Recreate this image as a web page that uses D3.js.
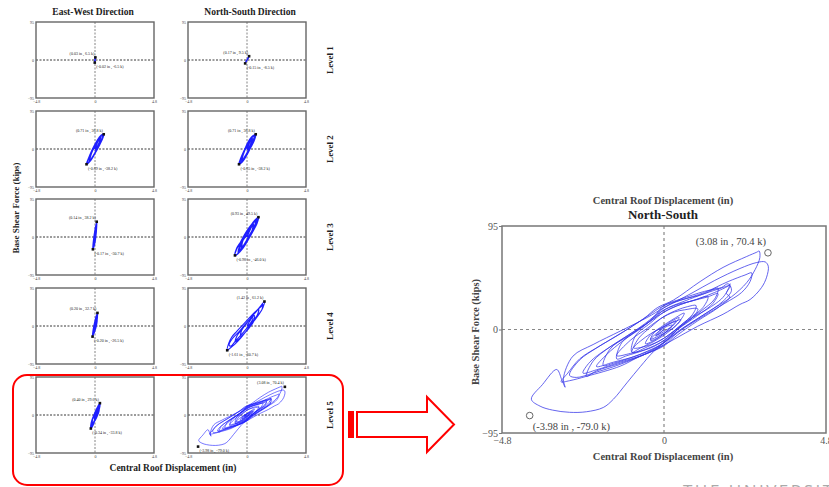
<!DOCTYPE html>
<html>
<head>
<meta charset="utf-8">
<script src="https://cdn.jsdelivr.net/npm/d3@7"></script>
<style>
  body { margin: 0; background: #fff; }
  svg { display: block; font-family: "Liberation Serif", "Times New Roman", serif; }
</style>
</head>
<body>
<script>
// axis ticks shared by every panel
const xTicks = [-4.8, 0, 4.8];
const yTicks = [-95, 0, 95];
const directions = ["East-West Direction", "North-South Direction"];
const levels = ["Level 1", "Level 2", "Level 3", "Level 4", "Level 5"];

// hysteresis traces (in, kips)
const ewLevel1 = [[0,0],[0.02,4],[0.03,6.5],[0.01,2],[-0.01,-3],[-0.02,-6.5],[0,-2],[0.02,3],[0.01,5],[-0.01,-1],[-0.02,-5],[0,0]];
const ewLevel2 = [[0,0],[0.25,20],[0.45,30],[0.35,16],[0.1,-4],[-0.2,-20],[-0.45,-32],[-0.35,-16],[-0.1,4],[0.2,22],[0.5,34],[0.71,36.8],[0.55,22],[0.25,4],[-0.1,-16],[-0.4,-30],[-0.69,-38.2],[-0.5,-22],[-0.25,-4],[0.05,14],[0.35,28],[0.6,35],[0.5,20],[0.2,0],[-0.15,-18],[-0.45,-32],[-0.6,-34],[-0.4,-16],[-0.1,2],[0.2,18],[0.4,24],[0.2,6],[0,-4]];
const ewLevel3 = [[0,0],[0.06,14],[0.1,26],[0.1,14],[0.04,-2],[-0.04,-16],[-0.1,-24],[-0.1,-12],[-0.04,4],[0.04,20],[0.14,38.2],[0.12,24],[0.08,8],[0.02,-8],[-0.06,-20],[-0.17,-30.7],[-0.14,-16],[-0.08,0],[0,16],[0.08,30],[0.1,22],[0.04,6],[-0.04,-10],[-0.12,-24],[-0.1,-12],[0,0]];
const ewLevel4 = [[0,0],[0.08,12],[0.15,24],[0.16,12],[0.08,-2],[-0.04,-14],[-0.12,-20],[-0.1,-8],[-0.02,6],[0.08,20],[0.2,32.7],[0.18,20],[0.12,6],[0.02,-8],[-0.1,-18],[-0.2,-26.5],[-0.16,-14],[-0.08,0],[0.02,14],[0.14,28],[0.15,16],[0.06,2],[-0.06,-12],[-0.16,-22],[-0.1,-8],[0,0]];
const ewLevel5 = [[0,0],[0.15,12],[0.3,22],[0.32,10],[0.15,-4],[-0.05,-16],[-0.2,-24],[-0.22,-12],[-0.05,2],[0.15,16],[0.4,29.6],[0.35,16],[0.2,2],[0,-12],[-0.15,-24],[-0.34,-33.8],[-0.3,-20],[-0.15,-6],[0.05,8],[0.25,20],[0.35,24],[0.28,10],[0.1,-4],[-0.1,-18],[-0.28,-28],[-0.25,-14],[-0.05,0],[0.15,10],[0.3,16],[0.15,2],[-0.05,-10],[0,0]];

const nsLevel1 = [[0,0],[0.1,5],[0.17,9.5],[0.08,3],[-0.05,-3],[-0.15,-8.5],[-0.06,-2],[0.05,3],[0.12,7],[0.02,1],[-0.1,-6],[0,0]];
const nsLevel2 = [[0,0],[0.22,18],[0.42,28],[0.34,14],[0.08,-6],[-0.22,-22],[-0.42,-30],[-0.32,-14],[-0.06,6],[0.22,22],[0.5,32],[0.71,36.8],[0.56,20],[0.26,2],[-0.08,-18],[-0.38,-32],[-0.65,-38.2],[-0.48,-22],[-0.22,-4],[0.08,16],[0.38,30],[0.6,34],[0.48,18],[0.18,-2],[-0.16,-20],[-0.44,-32],[-0.56,-32],[-0.36,-14],[-0.08,4],[0.22,20],[0.38,22],[0.18,4],[0,-2]];
const nsLevel3 = [[0,0],[0.3,22],[0.5,32],[0.45,18],[0.2,0],[-0.1,-14],[-0.4,-28],[-0.4,-14],[-0.15,4],[0.2,22],[0.6,38],[0.8,44],[0.7,30],[0.4,12],[0.05,-8],[-0.3,-26],[-0.7,-40],[-0.6,-24],[-0.3,-6],[0.1,16],[0.5,36],[0.93,49.5],[0.8,34],[0.5,16],[0.1,-6],[-0.4,-30],[-0.98,-46],[-0.85,-30],[-0.5,-12],[-0.1,10],[0.3,28],[0.7,40],[0.6,26],[0.2,4],[-0.2,-18],[-0.6,-34],[-0.5,-18],[-0.2,-2],[0,4]];
const nsLevel4 = [[0,0],[0.3,16],[0.6,26],[0.55,12],[0.2,-4],[-0.2,-18],[-0.5,-26],[-0.45,-12],[-0.1,4],[0.3,20],[0.7,34],[0.95,42],[0.85,28],[0.5,12],[0.1,-6],[-0.3,-22],[-0.7,-34],[-0.95,-40],[-0.8,-24],[-0.4,-8],[0.1,12],[0.6,32],[1.0,46],[1.42,61.2],[1.3,46],[1.0,30],[0.5,10],[0,-10],[-0.5,-30],[-1.0,-46],[-1.4,-56],[-1.61,-60.7],[-1.5,-44],[-1.25,-28],[-0.85,-14],[-0.3,4],[0.3,24],[0.9,42],[1.2,50],[1.3,54],[1.2,40],[0.8,24],[0.3,6],[-0.3,-16],[-0.9,-36],[-1.3,-50],[-1.45,-48],[-1.2,-32],[-0.7,-16],[-0.2,2],[0.3,18],[0.5,20],[0.2,4],[0,0]];
const nsLevel5 = [[0,0],[-0.25,-6],[-0.1,0],[0.2,6],[0.35,8],[0.2,2],[-0.1,-6],[-0.4,-10],[-0.3,-3],[0,3],[0.3,9],[0.45,11],[0.25,3],[-0.05,-5],[-0.35,-11],[-0.55,-13],[-0.4,-5],[-0.1,2],[0.3,10],[0.6,15],[0.45,7],[0.1,-3],[-0.3,-11],[-0.7,-17],[-0.95,-21],
  [-0.75,-8],[-0.4,2],[0,12],[0.4,18],[0.7,21],[0.95,22],[0.85,14],[0.5,4],[0,-8],[-0.5,-16],[-0.95,-21],
  [-0.85,-6],[-0.4,6],[0,16],[0.5,23],[0.9,27],[1.3,30],[1.15,20],[0.7,9],[0.2,-4],[0,-10],[-0.6,-19],[-1.1,-24],[-1.4,-27],
  [-1.25,-12],[-0.8,-1],[-0.3,10],[0,18],[0.6,26],[1.2,33],[1.6,38],[1.5,28],[1.1,17],[0.5,3],[0,-12],[-0.5,-20],[-0.9,-25],[-1.5,-31],[-1.8,-33],
  [-1.6,-18],[-1.1,-6],[-0.4,8],[0,20],[0.5,27],[1.0,31],[1.6,37],[1.96,40],[1.85,33],[1.95,30],[1.6,20],[1.0,8],[0.4,-5],[0,-15],[-0.5,-22],[-1.3,-31],[-2.0,-38],[-2.3,-43],
  [-2.1,-29],[-1.6,-16],[-0.9,-2],[-0.3,12],[0,22],[0.5,28],[1.2,35],[1.7,38.5],[1.9,42],[2.0,36],[1.75,26],[1.1,12],[0.4,-2],[0,-12],[-0.4,-20],[-1.3,-32],[-2.1,-40],[-2.6,-44],[-2.8,-42],
  [-2.5,-28],[-2.0,-17],[-1.3,-4],[-0.6,10],[-0.2,20],[0.28,27],[1.07,44],[1.75,57],[2.45,67],[2.75,71],[2.82,72],[2.84,66],[2.7,55],[2.45,43],[2.0,30],[1.3,16],[0.6,2],[0.1,-10],[-0.3,-20],[-0.7,-34],[-1.1,-49],[-1.5,-64],[-1.8,-71.6],[-2.3,-75.5],[-2.8,-76],[-3.3,-74],[-3.67,-70.4],[-3.93,-64],[-3.6,-50.5],[-3.18,-36.7],[-3.03,-46],[-2.93,-53],[-2.98,-45],
  [-2.7,-24.5],[-2.1,-13.8],[-1.3,-1.5],[-0.5,11],[0,20],[0.8,33],[1.5,45],[2.25,56],[2.75,61.5],[3.0,62],[3.09,58],[3.04,48],[2.89,38.5],[2.55,27.5],[2.25,23],[1.75,14],[1.0,3],[0.3,-9],[-0.3,-19],[-0.8,-26],[-1.3,-33.7],[-2.3,-43],[-2.8,-47],[-3.05,-48],
  [-2.85,-40],[-2.5,-27],[-1.9,-15],[-1.2,-2],[-0.5,12],[0,22],[0.5,27],[1.2,34],[1.9,44],[2.4,50],[2.6,52],[2.55,44],[2.3,34],[1.8,24],[1.1,11],[0.4,-3],[0,-14],[-0.5,-22],[-1.3,-30],[-2.0,-37],[-2.4,-40],
  [-2.2,-30],[-1.7,-18],[-1.0,-5],[-0.4,8],[0,16],[0.4,22],[1.0,28],[1.5,34],[1.9,40],[1.96,42],[1.85,34],[1.7,28],[1.3,19],[0.7,8],[0.2,-6],[-0.2,-16],[-0.8,-24],[-1.5,-30],[-2.0,-34],
  [-1.7,-23],[-1.2,-10],[-0.6,3],[-0.2,14],[0.3,22],[0.8,26],[1.3,30],[1.6,33],[1.45,24],[1.0,13],[0.4,0],[0,-10],[-0.4,-17],[-1.0,-22],[-1.4,-24],
  [-1.0,-10],[-0.5,1],[-0.1,10],[0.3,16],[0.6,18],[1.0,19],[0.85,11],[0.4,1],[0,-8],[-0.4,-14],[-0.9,-17],
  [-0.5,-6],[-0.1,1],[0.3,7],[0.5,9],[0.3,2],[-0.1,-5],[-0.4,-9],[-0.2,-3],[0.1,3],[0.25,4],[0,-2],[-0.2,-5],[0,0]];

// peak points marked in each panel
const ewMax = [[0.03,6.5],[0.71,36.8],[0.14,38.2],[0.20,32.7],[0.40,29.6]];
const ewMin = [[-0.02,-6.5],[-0.69,-38.2],[-0.17,-30.7],[-0.20,-26.5],[-0.34,-33.8]];
const nsMax = [[0.17,9.5],[0.71,36.8],[0.93,49.5],[1.42,61.2],[3.08,70.4]];
const nsMin = [[-0.15,-8.5],[-0.65,-38.2],[-0.98,-46.0],[-1.61,-60.7],[-3.98,-79.0]];

const ewLoops = [ewLevel1, ewLevel2, ewLevel3, ewLevel4, ewLevel5];
const nsLoops = [nsLevel1, nsLevel2, nsLevel3, nsLevel4, nsLevel5];

const peakText = d => `(${d[0].toFixed(2)} in , ${d[1].toFixed(1)} k)`;

const svg = d3.select("body").append("svg")
  .attr("width", 829)
  .attr("height", 487);

// ---------- small panel grid ----------
const colX = [36, 188];
const rowY = [22, 111, 199, 288, 377];
const pw = 118, ph = 76;

function smallPanel(x0, y0, pts, mx, mn, lw) {
  const g = svg.append("g");
  const x = d3.scaleLinear().domain([-4.8, 4.8]).range([x0, x0 + pw]);
  const y = d3.scaleLinear().domain([-95, 95]).range([y0 + ph, y0]);

  g.append("line")
    .attr("x1", x(-4.8)).attr("x2", x(4.8))
    .attr("y1", y(0)).attr("y2", y(0))
    .attr("stroke", "#222").attr("stroke-width", 0.9)
    .attr("stroke-dasharray", "2,1.5");
  g.append("line")
    .attr("x1", x(0)).attr("x2", x(0))
    .attr("y1", y(95)).attr("y2", y(-95))
    .attr("stroke", "#777").attr("stroke-width", 0.9)
    .attr("stroke-dasharray", "2,1.5");

  const line = d3.line().x(d => x(d[0])).y(d => y(d[1])).curve(d3.curveCatmullRom);
  g.append("path").datum(pts)
    .attr("d", line)
    .attr("fill", "none")
    .attr("stroke", "#1f1fff")
    .attr("stroke-width", lw);

  g.append("rect")
    .attr("x", x0).attr("y", y0).attr("width", pw).attr("height", ph)
    .attr("fill", "none").attr("stroke", "#666").attr("stroke-width", 1.4);

  const yAxis = g.append("g").attr("transform", `translate(${x0},0)`)
    .call(d3.axisLeft(y).tickValues(yTicks).tickSize(0).tickPadding(2).tickFormat(d3.format("d")));
  const xAxis = g.append("g").attr("transform", `translate(0,${y0 + ph})`)
    .call(d3.axisBottom(x).tickValues(xTicks).tickSize(0).tickPadding(2.5).tickFormat(d3.format(".1f")));
  [yAxis, xAxis].forEach(a => {
    a.select(".domain").remove();
    a.selectAll("text").attr("font-size", 4).attr("fill", "#444")
      .attr("font-family", "Liberation Serif");
  });
  xAxis.selectAll(".tick").filter(d => d === 0).select("text").text("0");

  [mx, mn].forEach(p => {
    g.append("rect")
      .attr("x", x(p[0]) - 1.3).attr("y", y(p[1]) - 1.3)
      .attr("width", 2.6).attr("height", 2.6)
      .attr("fill", "#111");
  });
  g.append("text")
    .attr("x", x(mx[0]) - 1).attr("y", y(mx[1]) - 2.5)
    .attr("text-anchor", "end").attr("font-size", 4).attr("fill", "#222")
    .text(peakText(mx));
  g.append("text")
    .attr("x", x(mn[0]) + 1.5).attr("y", y(mn[1]) + 5.5)
    .attr("text-anchor", "start").attr("font-size", 4).attr("fill", "#222")
    .text(peakText(mn));
}

const nsWidths = [1.3, 1.6, 1.6, 1.1, 0.6];
levels.forEach((lv, i) => {
  smallPanel(colX[0], rowY[i], ewLoops[i], ewMax[i], ewMin[i], 1.5);
  smallPanel(colX[1], rowY[i], nsLoops[i], nsMax[i], nsMin[i], nsWidths[i]);
  svg.append("text")
    .attr("transform", `translate(333,${rowY[i] + ph / 2}) rotate(-90)`)
    .attr("text-anchor", "middle")
    .attr("font-size", 9).attr("font-weight", "bold").attr("fill", "#222")
    .text(lv);
});

svg.selectAll(".dirTitle").data(directions).join("text")
  .attr("class", "dirTitle")
  .attr("x", (d, i) => [93, 250][i]).attr("y", 15)
  .attr("text-anchor", "middle")
  .attr("font-size", 9.5).attr("font-weight", "bold").attr("fill", "#222")
  .text(d => d);

svg.append("text")
  .attr("transform", "translate(19,208) rotate(-90)")
  .attr("text-anchor", "middle")
  .attr("font-size", 9).attr("font-weight", "bold").attr("fill", "#222")
  .text("Base Shear Force (kips)");

svg.append("text")
  .attr("x", 173).attr("y", 471)
  .attr("text-anchor", "middle")
  .attr("font-size", 9.5).attr("font-weight", "bold").attr("fill", "#222")
  .text("Central Roof Displacement (in)");

// red highlight box and arrow
svg.append("rect")
  .attr("x", 13).attr("y", 375).attr("width", 330).attr("height", 110)
  .attr("rx", 14)
  .attr("fill", "none").attr("stroke", "#f00").attr("stroke-width", 2);

svg.append("rect")
  .attr("x", 348).attr("y", 411).attr("width", 6).attr("height", 27)
  .attr("fill", "#f00");
svg.append("polygon")
  .attr("points", "357,412 427,412 427,397 454,424.5 427,452 427,437 357,437")
  .attr("fill", "#fff").attr("stroke", "#f00").attr("stroke-width", 2);

// ---------- enlarged North-South Level 5 ----------
const bx0 = 502, bx1 = 826, by0 = 226, by1 = 433;
const bx = d3.scaleLinear().domain([-4.8, 4.8]).range([bx0, bx1]);
const by = d3.scaleLinear().domain([-95, 95]).range([by1, by0]);
const big = svg.append("g");

big.append("line")
  .attr("x1", bx(-4.8)).attr("x2", bx(4.8)).attr("y1", by(0)).attr("y2", by(0))
  .attr("stroke", "#888").attr("stroke-width", 1.2).attr("stroke-dasharray", "3,3");
big.append("line")
  .attr("x1", bx(0)).attr("x2", bx(0)).attr("y1", by(95)).attr("y2", by(-95))
  .attr("stroke", "#888").attr("stroke-width", 1.2).attr("stroke-dasharray", "3,3");

big.append("path").datum(nsLevel5)
  .attr("d", d3.line().x(d => bx(d[0])).y(d => by(d[1])).curve(d3.curveCatmullRom))
  .attr("fill", "none")
  .attr("stroke", "#3434e8")
  .attr("stroke-opacity", 0.85)
  .attr("stroke-width", 0.9);

big.append("rect")
  .attr("x", bx0).attr("y", by0).attr("width", bx1 - bx0).attr("height", by1 - by0)
  .attr("fill", "none").attr("stroke", "#777").attr("stroke-width", 1.5);

const bigY = big.append("g").attr("transform", `translate(${bx0},0)`)
  .call(d3.axisLeft(by).tickValues(yTicks).tickSize(3).tickPadding(1).tickFormat(d3.format("d")));
const bigX = big.append("g").attr("transform", `translate(0,${by1})`)
  .call(d3.axisBottom(bx).tickValues(xTicks).tickSize(0).tickPadding(4).tickFormat(d3.format(".1f")));
[bigY, bigX].forEach(a => {
  a.select(".domain").remove();
  a.selectAll("line").attr("stroke", "#777");
  a.selectAll("text").attr("font-size", 10).attr("fill", "#555")
    .attr("font-family", "Liberation Serif");
});
bigX.selectAll(".tick").filter(d => d === 0).select("text").text("0");

const bMax = nsMax[4], bMin = nsMin[4];
[bMax, bMin].forEach(p => {
  big.append("circle")
    .attr("cx", bx(p[0])).attr("cy", by(p[1])).attr("r", 3.3)
    .attr("fill", "none").attr("stroke", "#666").attr("stroke-width", 1);
});
big.append("text")
  .attr("x", bx(bMax[0]) - 2).attr("y", by(bMax[1]) - 7.5)
  .attr("text-anchor", "end").attr("font-size", 10.5).attr("fill", "#444")
  .text(peakText(bMax));
big.append("text")
  .attr("x", bx(bMin[0]) + 3).attr("y", by(bMin[1]) + 14.5)
  .attr("text-anchor", "start").attr("font-size", 10.5).attr("fill", "#444")
  .text(peakText(bMin));

big.append("text")
  .attr("x", 663).attr("y", 203.5).attr("text-anchor", "middle")
  .attr("font-size", 10.5).attr("font-weight", "bold").attr("fill", "#444")
  .text("Central Roof Displacement (in)");
big.append("text")
  .attr("x", 663).attr("y", 218.5).attr("text-anchor", "middle")
  .attr("font-size", 13).attr("font-weight", "bold").attr("fill", "#222")
  .text("North-South");
big.append("text")
  .attr("x", 663).attr("y", 459.5).attr("text-anchor", "middle")
  .attr("font-size", 10.5).attr("font-weight", "bold").attr("fill", "#444")
  .text("Central Roof Displacement (in)");
big.append("text")
  .attr("transform", "translate(479,332) rotate(-90)")
  .attr("text-anchor", "middle")
  .attr("font-size", 10.5).attr("font-weight", "bold").attr("fill", "#444")
  .text("Base Shear Force (kips)");

// cropped slide footer
svg.append("text")
  .attr("x", 683).attr("y", 497)
  .attr("font-family", "Open Sans, sans-serif")
  .attr("font-size", 17).attr("letter-spacing", 2.5).attr("fill", "#aaa")
  .text("THE UNIVERSIT");
</script>
</body>
</html>
